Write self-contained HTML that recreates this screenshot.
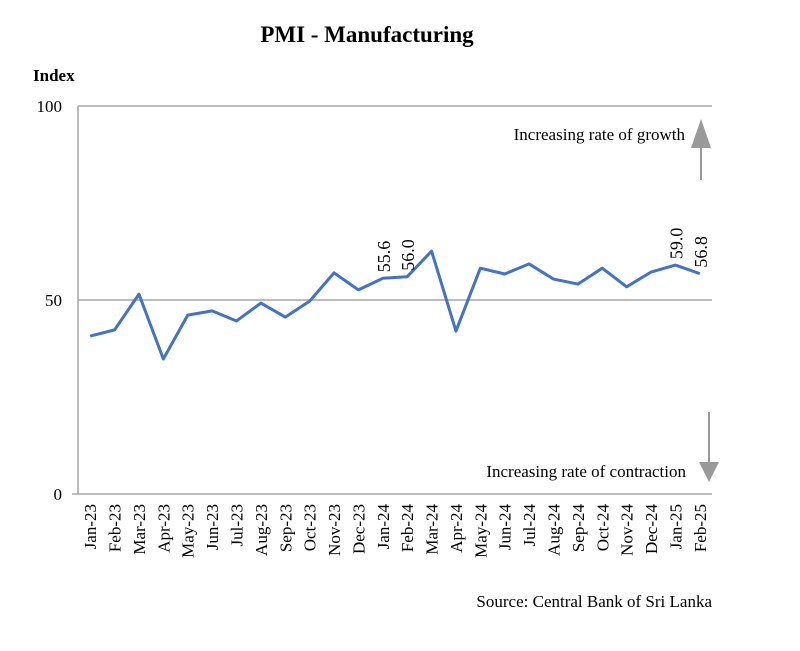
<!DOCTYPE html>
<html><head><meta charset="utf-8"><style>
body{margin:0;background:#fff;}
svg text{font-family:"Liberation Serif",serif;fill:#000;}
</style></head><body>
<svg width="800" height="646">
<text x="367" y="42" font-size="23" font-weight="bold" text-anchor="middle">PMI - Manufacturing</text>
<text x="33" y="81" font-size="17" font-weight="bold">Index</text>
<g id="grid"></g>
<g id="ticks"></g>
<polyline id="line" fill="none" stroke="#4472C4" stroke-width="3" stroke-linejoin="round"/>
<g id="labels"></g>
<text x="685" y="140" font-size="17" text-anchor="end">Increasing rate of growth</text>
<line x1="701" y1="180" x2="701" y2="146" stroke="#999" stroke-width="2"/>
<polygon points="691,148 711,148 701,119" fill="#999"/>
<text x="686" y="477" font-size="17" text-anchor="end">Increasing rate of contraction</text>
<line x1="709" y1="412" x2="709" y2="464" stroke="#999" stroke-width="2"/>
<polygon points="699,462 719,462 709,482" fill="#999"/>
<text x="712" y="607" font-size="17" text-anchor="end">Source: Central Bank of Sri Lanka</text>
</svg>
<script>
const categories=["Jan-23","Feb-23","Mar-23","Apr-23","May-23","Jun-23","Jul-23","Aug-23","Sep-23","Oct-23","Nov-23","Dec-23","Jan-24","Feb-24","Mar-24","Apr-24","May-24","Jun-24","Jul-24","Aug-24","Sep-24","Oct-24","Nov-24","Dec-24","Jan-25","Feb-25"];
const values=[40.7,42.3,51.5,34.8,46.1,47.2,44.6,49.2,45.6,49.7,57.0,52.6,55.6,56.0,62.6,42.0,58.2,56.7,59.3,55.4,54.1,58.2,53.4,57.2,59.0,56.8];
const yTicks=[0,50,100];
const labelled=[12,13,24,25];
const NS="http://www.w3.org/2000/svg";
const x0=78,x1=712,yTop=106,yBot=494;
const bw=(x1-x0)/categories.length;
function xs(i){return x0+bw*(i+0.5);}
function ys(v){return yBot-(v/100)*(yBot-yTop);}
function mk(t,a,p){const e=document.createElementNS(NS,t);for(const k in a)e.setAttribute(k,a[k]);p.appendChild(e);return e;}
const grid=document.getElementById('grid');
yTicks.forEach(v=>{
 const l=mk('line',{x1:v===0?72:x0,x2:x1,y1:ys(v),y2:ys(v),stroke:'#a6a6a6','stroke-width':1.5},grid);
 
 
 const t=mk('text',{x:x0-16,y:ys(v)+6,'font-size':17,'text-anchor':'end'},grid);
 t.textContent=v;
 
 
});
const ax=mk('line',{x1:x0,x2:x0,y1:yTop,y2:yBot,stroke:'#a6a6a6','stroke-width':1.5},grid);


const tk=document.getElementById('ticks');
categories.forEach((c,i)=>{
 const t=mk('text',{transform:`translate(${xs(i)+6},${yBot+10}) rotate(-90)`,'font-size':17,'text-anchor':'end'},tk);
 t.textContent=c;
 
 
});
document.getElementById('line').setAttribute('points',values.map((v,i)=>xs(i)+','+ys(v)).join(' '));
const lb=document.getElementById('labels');
labelled.forEach(i=>{
 const t=mk('text',{transform:`translate(${xs(i)+7},${ys(values[i])-6}) rotate(-90)`,'font-size':18},lb);
 t.textContent=values[i].toFixed(1);
 
 
});
</script>
</body></html>
